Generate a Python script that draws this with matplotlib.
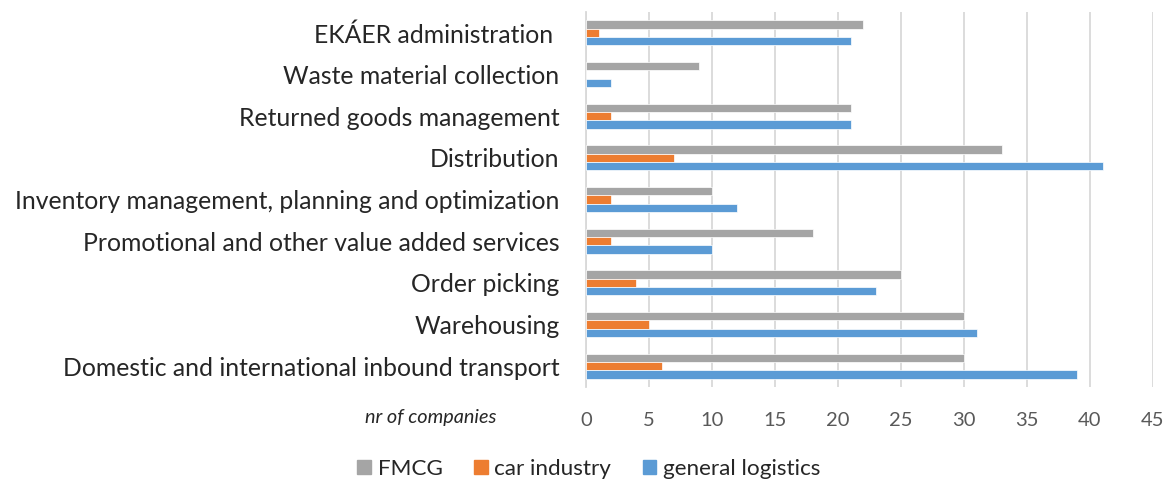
import numpy as np
import matplotlib.pyplot as plt
from matplotlib.patches import Patch

plt.rcParams['font.family'] = ['Lato', 'DejaVu Sans']

# categories from bottom to top
categories = [
    'Domestic and international inbound transport',
    'Warehousing',
    'Order picking',
    'Promotional and other value added services',
    'Inventory management, planning and optimization',
    'Distribution',
    'Returned goods management',
    'Waste material collection',
    'EKÁER administration ',
]
fmcg = [30, 30, 25, 18, 10, 33, 21, 9, 22]
car_industry = [6, 5, 4, 2, 2, 7, 2, 0, 1]
general_logistics = [39, 31, 23, 10, 12, 41, 21, 2, 21]
x_ticks = [0, 5, 10, 15, 20, 25, 30, 35, 40, 45]

c_gray = '#A5A5A5'
c_orange = '#ED7D31'
c_blue = '#5B9BD5'


def main():
    fig = plt.figure(figsize=(11.66, 4.86), dpi=100)
    ax = fig.add_axes([586 / 1166, 1 - 387 / 486, (1153 - 586) / 1166, (387 - 12) / 486])

    y = np.arange(len(categories))
    h = 0.2
    ax.barh(y + h, fmcg, height=h, color=c_gray, edgecolor='white', linewidth=0.5, zorder=3)
    ax.barh(y, car_industry, height=h, color=c_orange, edgecolor='white', linewidth=0.5, zorder=3)
    ax.barh(y - h, general_logistics, height=h, color=c_blue, edgecolor='white', linewidth=0.5, zorder=3)

    ax.set_xlim(0, 45)
    ax.set_ylim(-0.5, len(categories) - 0.5)
    ax.set_xticks(x_ticks)
    ax.set_xticklabels([str(t) for t in x_ticks], fontsize=14.5, color='#595959')
    ax.set_yticks(y)
    ax.set_yticklabels(categories, fontsize=17.8, color='#262626')
    ax.tick_params(axis='x', length=0, pad=18)
    ax.tick_params(axis='y', length=0, pad=19)
    ax.grid(axis='x', color='#D9D9D9', linewidth=1.3, zorder=0)
    for s in ['top', 'right', 'bottom']:
        ax.spines[s].set_visible(False)
    ax.spines['left'].set_color('#D9D9D9')
    ax.spines['left'].set_linewidth(1.3)

    fig.text(431 / 1166, 1 - 418 / 486, 'nr of companies', fontsize=14.3, style='italic',
             color='#262626', ha='center', va='center')

    handles = [Patch(color=c_gray, label='FMCG'),
               Patch(color=c_orange, label='car industry'),
               Patch(color=c_blue, label='general logistics')]
    fig.legend(handles=handles, loc='center', bbox_to_anchor=(0.505, 1 - 469 / 486), ncol=3,
               frameon=False, fontsize=16.2, handlelength=0.6, handleheight=0.6,
               handletextpad=0.3, columnspacing=1.4, labelcolor='#262626')

    fig.savefig('out.png', dpi=100)


if __name__ == '__main__':
    main()
